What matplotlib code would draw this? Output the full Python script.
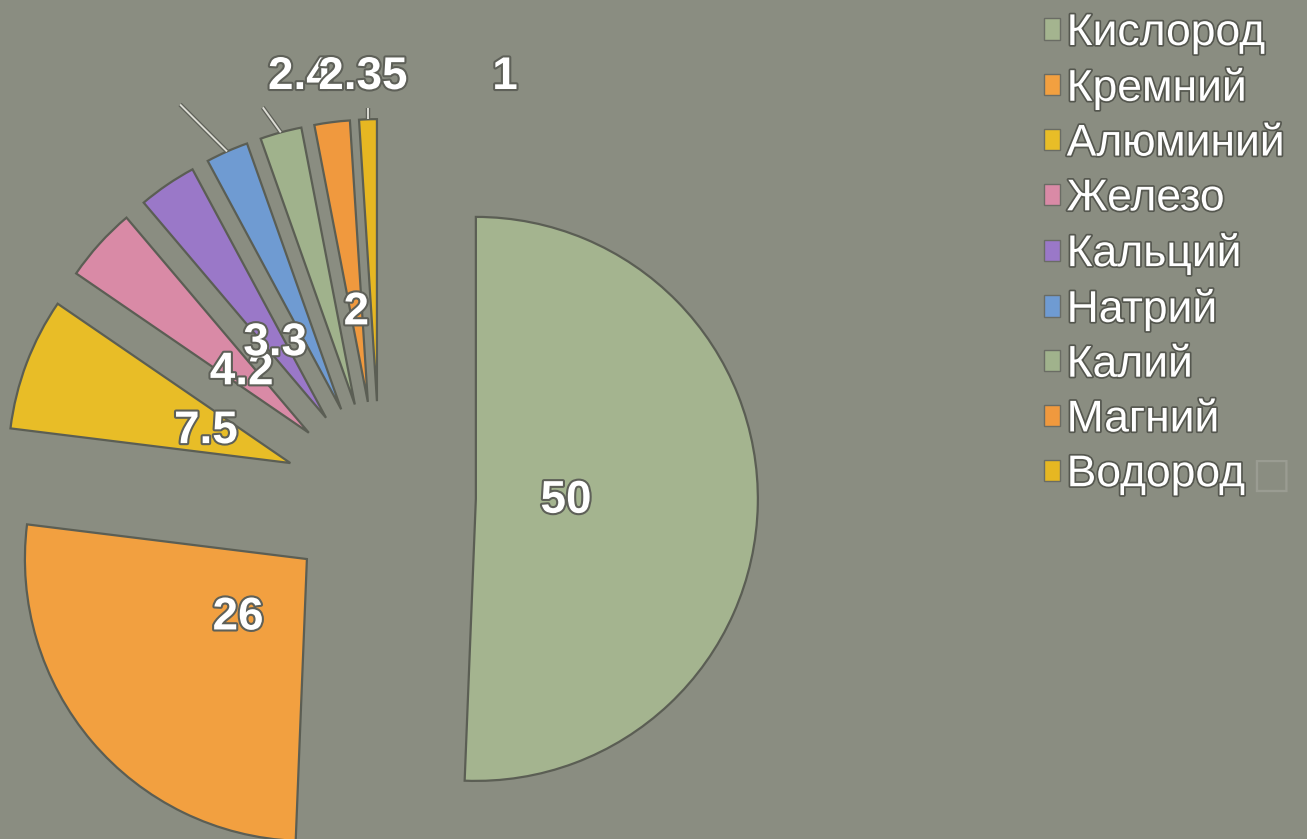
import matplotlib
matplotlib.use("Agg")
import matplotlib.pyplot as plt
import matplotlib.patheffects as pe
from matplotlib.patches import Patch
import numpy as np

# ---- data ----
elements = ["Кислород", "Кремний", "Алюминий", "Железо", "Кальций",
            "Натрий", "Калий", "Магний", "Водород"]
values = [50, 26, 7.5, 4.2, 3.3, 2.4, 2.35, 2, 1]
value_labels = ["50", "26", "7.5", "4.2", "3.3", "2.4", "2.35", "2", "1"]
colors = ["#a4b48f", "#f2a040", "#e8bd27", "#d98aa6", "#9a78c8",
          "#6f9bd2", "#a0b28c", "#f0993e", "#e6b722"]

# ---- layout ----
W, H = 1307, 839
BG = "#8a8d81"
center = (380, 342)
radius = 282
explode_frac = 0.34
label_frac = 0.32
# labels moved outside the pie (index -> position in pixel coords, y up)
outside_pos = {5: (300, 762), 6: (363, 762), 8: (505, 762)}
# leader lines: offset of the end point from the wedge's outer mid point
leader_off = {5: (-47, 47), 6: (-18, 25), 8: (0, 11)}

plt.rcParams["font.family"] = ["Liberation Sans", "DejaVu Sans"]

fig = plt.figure(figsize=(W / 100, H / 100), dpi=100, facecolor=BG)
ax = fig.add_axes([0, 0, 1, 1])
ax.set_facecolor(BG)

wedges, _ = ax.pie(values, colors=colors, startangle=90, counterclock=False,
                   explode=[explode_frac * radius] * len(values), radius=radius,
                   center=center,
                   wedgeprops=dict(edgecolor="#5b5e54", linewidth=1.6))
ax.set_xlim(0, W)
ax.set_ylim(0, H)
ax.set_aspect("equal")
ax.axis("off")

txt_fx = [pe.withStroke(linewidth=3, foreground="#5e6058")]
line_fx = [pe.withStroke(linewidth=3.2, foreground="#5e6058")]

for i, w in enumerate(wedges):
    th = np.deg2rad((w.theta1 + w.theta2) / 2)
    cx, cy = w.center
    d = np.array([np.cos(th), np.sin(th)])
    if i in outside_pos:
        x, y = outside_pos[i]
        ox, oy = cx + w.r * d[0], cy + w.r * d[1]
        dx, dy = leader_off[i]
        ax.plot([ox, ox + dx], [oy, oy + dy], color="#dcdcd4", lw=1.4,
                solid_capstyle="butt", path_effects=line_fx, zorder=3)
    else:
        x, y = cx + label_frac * w.r * d[0], cy + label_frac * w.r * d[1]
    ax.text(x, y, value_labels[i], ha="center", va="center", fontsize=33,
            fontweight="bold", color="white", path_effects=txt_fx, zorder=5)

handles = [Patch(facecolor=c, edgecolor="#6a6c64", linewidth=1.0) for c in colors]
leg = fig.legend(handles, elements, loc="upper left",
                 bbox_to_anchor=(1044 / W, 1.0 - 13 / H),
                 frameon=False, fontsize=32, handlelength=0.36, handleheight=0.36,
                 handletextpad=0.15, labelspacing=0.31, borderaxespad=0, borderpad=0)
for t in leg.get_texts():
    t.set_color("white")
    t.set_path_effects([pe.withStroke(linewidth=2.5, foreground="#55574f")])

# the missing-glyph box after the last legend entry
fig.canvas.draw()
r = fig.canvas.get_renderer()
bb = leg.get_texts()[-1].get_window_extent(r)
fig.text((bb.x1 + 6) / W, (bb.y0 + bb.y1) / 2 / H, "\u25A1", ha="left", va="center",
         fontsize=30, color="#9a9c92", family="DejaVu Sans")

fig.savefig("out.png", dpi=100, facecolor=BG)
